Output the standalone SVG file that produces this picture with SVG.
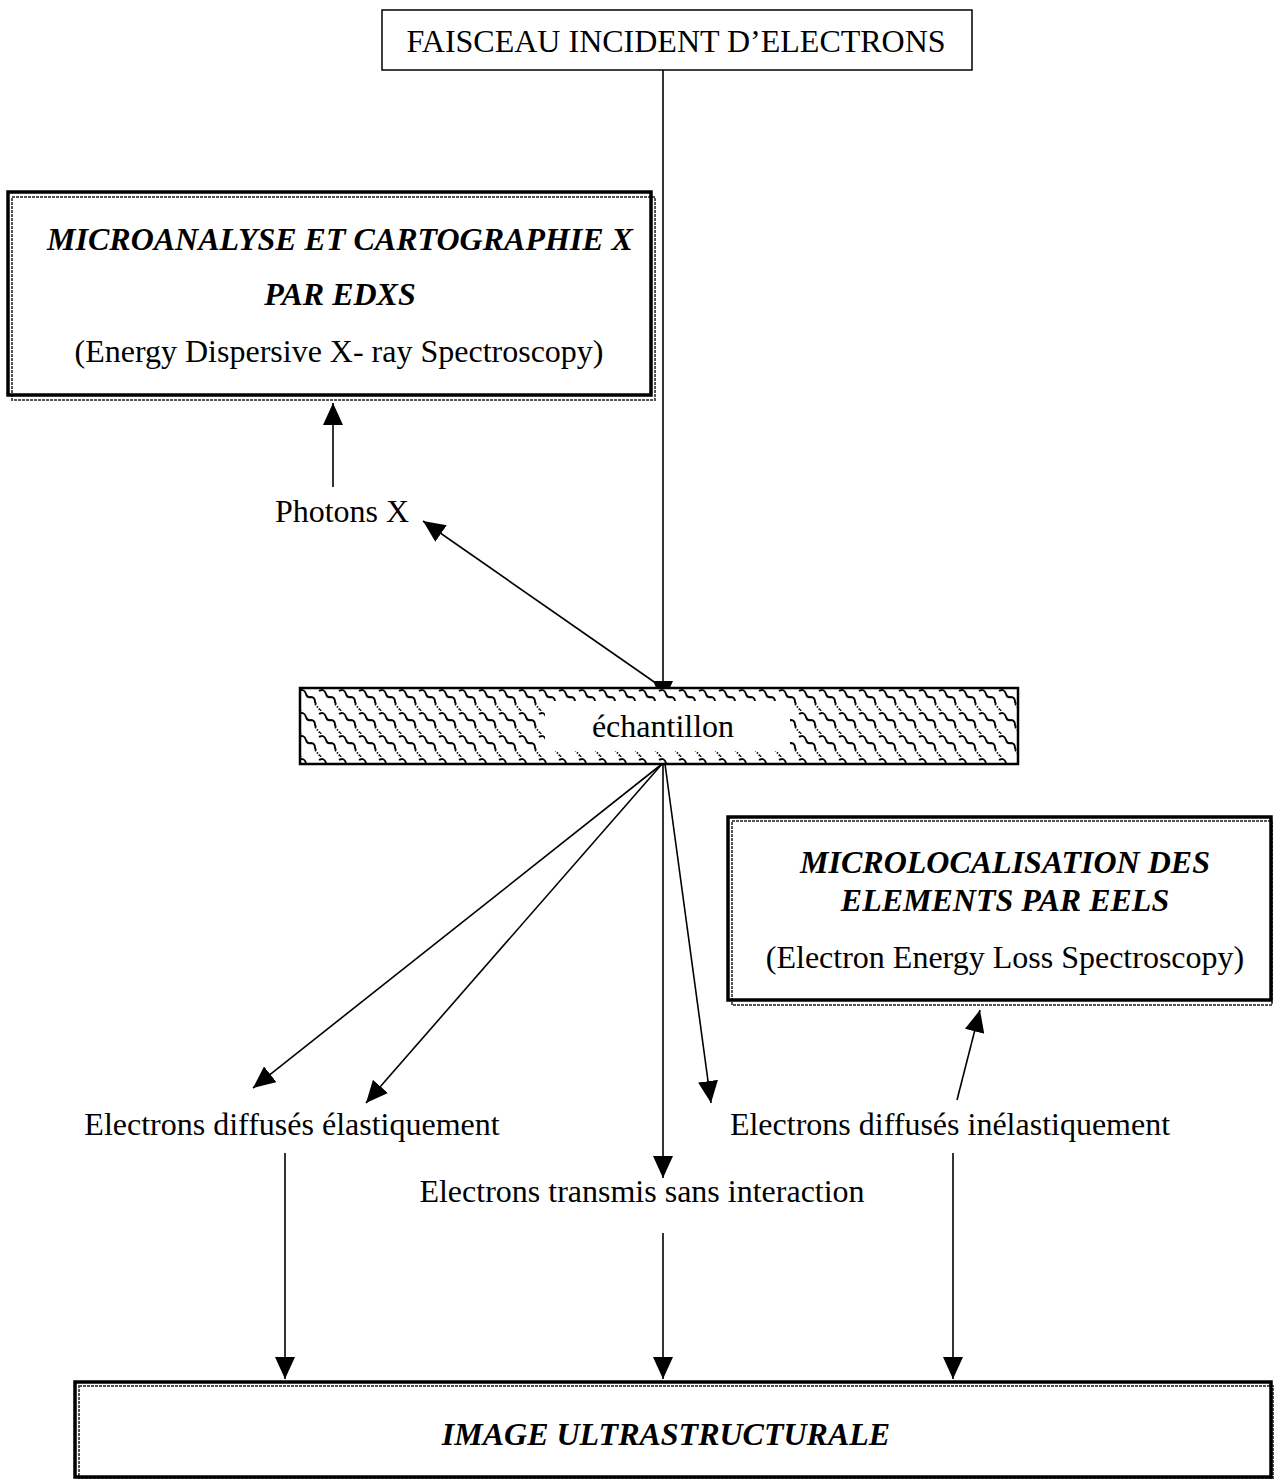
<svg xmlns="http://www.w3.org/2000/svg" width="1274" height="1479" viewBox="0 0 1274 1479">
<defs>
<style>
text{font-family:"Liberation Serif","Times New Roman",serif;font-size:32px;fill:#000;text-anchor:middle}
.bi{font-weight:bold;font-style:italic}
.thin{fill:none;stroke:#555;stroke-width:2;stroke-dasharray:3 1}
.thick{fill:none;stroke:#000;stroke-width:3.5}
.plain{fill:#fff;stroke:#000;stroke-width:1.5}
.ln{fill:none;stroke:#000;stroke-width:1.6}
.arr{marker-end:url(#ah)}
</style>
<marker id="ah" viewBox="0 0 22 20" refX="22" refY="10" markerWidth="22" markerHeight="20" markerUnits="userSpaceOnUse" orient="auto">
<path d="M0,0 L22,10 L0,20 Z" fill="#000"/>
</marker>
<pattern id="hatch" x="300" y="688" width="20" height="23" patternUnits="userSpaceOnUse">
<rect width="20" height="23" fill="#fff"/>
<path d="M-1,3 q5,-3 7,3 q1,4 5,3 q4,0 4,5 l1,2 M19,3 q5,-3 7,3" fill="none" stroke="#000" stroke-width="1.9"/>
<path d="M15,16 l5,6 M-5,16 l5,6 M0,22 l2,2" fill="none" stroke="#111" stroke-width="1.8" stroke-dasharray="1.6 1.4"/>
</pattern>
</defs>
<rect width="1274" height="1479" fill="#fff"/>

<g id="connectors">
<line class="ln arr" x1="663" y1="70" x2="663" y2="703"/>
<line class="ln arr" x1="333" y1="487" x2="333" y2="403"/>
<line class="ln arr" x1="660" y1="686" x2="423" y2="521"/>
<line class="ln arr" x1="662" y1="764" x2="253" y2="1088"/>
<line class="ln arr" x1="662" y1="764" x2="366" y2="1103"/>
<line class="ln arr" x1="663" y1="764" x2="663" y2="1178"/>
<line class="ln arr" x1="665" y1="764" x2="711" y2="1103"/>
<line class="ln arr" x1="957" y1="1100" x2="980" y2="1010"/>
<line class="ln arr" x1="285" y1="1153" x2="285" y2="1379"/>
<line class="ln arr" x1="663" y1="1233" x2="663" y2="1379"/>
<line class="ln arr" x1="953" y1="1153" x2="953" y2="1379"/>
</g>

<g id="faisceau">
<rect class="plain" x="382" y="10" width="590" height="60"/>
<text x="676" y="52">FAISCEAU INCIDENT D’ELECTRONS</text>
</g>

<g id="edxs">
<rect x="8" y="192" width="643" height="203" fill="#fff"/>
<rect class="thin" x="12" y="197" width="643" height="203"/>
<rect class="thick" x="8" y="192" width="643" height="203"/>
<text class="bi" x="340" y="250">MICROANALYSE ET CARTOGRAPHIE X</text>
<text class="bi" x="340" y="305">PAR EDXS</text>
<text x="339" y="362">(Energy Dispersive X- ray Spectroscopy)</text>
</g>

<g id="photons">
<text x="342" y="522">Photons X</text>
</g>

<g id="echantillon">
<rect x="300" y="688" width="718" height="76" fill="url(#hatch)"/>
<rect x="545" y="701" width="245" height="50" fill="#fff"/>
<rect x="300" y="688" width="718" height="76" fill="none" stroke="#000" stroke-width="2.5"/>
<text x="663" y="737">échantillon</text>
</g>

<g id="eels">
<rect x="728" y="817" width="543" height="183" fill="#fff"/>
<rect class="thin" x="732" y="821" width="540" height="184"/>
<rect class="thick" x="728" y="817" width="543" height="183"/>
<text class="bi" x="1005" y="873">MICROLOCALISATION DES</text>
<text class="bi" x="1005" y="911">ELEMENTS PAR EELS</text>
<text x="1005" y="968">(Electron Energy Loss Spectroscopy)</text>
</g>

<g id="elastique">
<text x="292" y="1135">Electrons diffusés élastiquement</text>
</g>
<g id="inelastique">
<text x="950" y="1135">Electrons diffusés inélastiquement</text>
</g>
<g id="transmis">
<text x="642" y="1202">Electrons transmis sans interaction</text>
</g>

<g id="image">
<rect x="75" y="1382" width="1196" height="95" fill="#fff"/>
<rect class="thin" x="79" y="1386" width="1194" height="93"/>
<rect class="thick" x="75" y="1382" width="1196" height="95"/>
<text class="bi" x="666" y="1445">IMAGE ULTRASTRUCTURALE</text>
</g>
</svg>
